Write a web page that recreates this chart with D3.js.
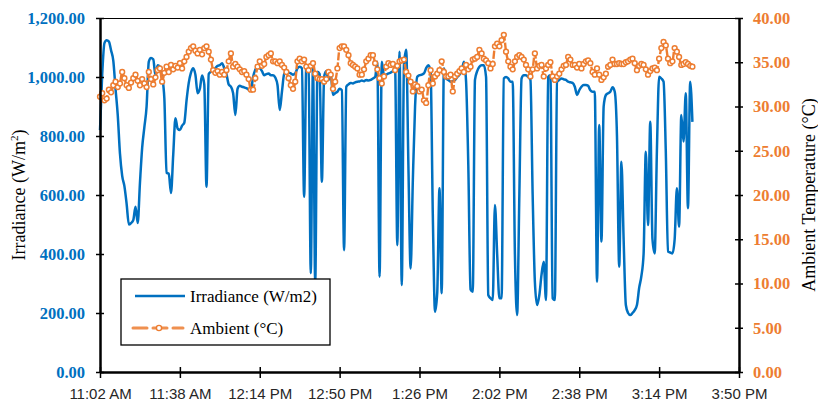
<!DOCTYPE html>
<html>
<head>
<meta charset="utf-8">
<script src="https://cdn.jsdelivr.net/npm/d3@7"></script>
<style>
	body { margin: 0; background: #fff; }
	svg { display: block; }
</style>
</head>
<body>
<div id="graphicContainer"></div>
<script>

// one reading per minute, starting at 11:02 AM
var startTime = "11:02 AM"

var xTickLabels = ["11:02 AM", "11:38 AM", "12:14 PM", "12:50 PM", "1:26 PM", "2:02 PM", "2:38 PM", "3:14 PM", "3:50 PM"]
var irrTicks = [0, 200, 400, 600, 800, 1000, 1200]
var tempTicks = [0, 5, 10, 15, 20, 25, 30, 35, 40]

// Irradiance (W/m2)
var irradiance = [
	820,1010,1115,1125,1120,1090,1055,960,871,740,
	665,630,570,500,505,515,560,505,640,760,
	830,900,1052,1064,1060,1005,1040,1035,1000,928,
	675,672,607,736,860,825,820,835,845,920,
	980,1015,1030,1008,945,960,1005,975,628,1010,
	1018,1025,1030,1038,1040,1047,1030,1010,975,967,
	945,871,960,970,967,965,962,958,955,1000,
	1025,1035,1030,1020,1006,1010,1012,1006,1006,998,
	973,888,950,1010,1018,1015,1012,1008,1012,1030,
	1035,1030,594,1040,1035,335,1040,300,1018,1010,
	645,1000,1020,990,1010,939,945,950,960,955,
	413,967,975,980,978,982,984,985,988,986,
	990,988,990,995,1000,1052,323,1052,1006,1008,
	1012,1015,1020,1030,430,1086,295,1040,1092,700,
	351,650,900,1001,1006,1008,1012,1030,1040,1020,
	532,204,270,623,267,1030,995,990,984,987,
	990,1000,1008,1020,1052,984,700,280,272,990,
	1020,1035,1040,1040,1000,261,250,244,566,400,
	250,250,995,1000,995,984,984,400,193,600,
	995,1006,1006,1000,990,600,306,227,260,330,
	374,244,1000,1006,250,244,984,990,995,992,
	990,984,982,980,967,939,955,967,973,973,
	970,955,950,950,306,837,442,900,939,945,
	950,965,950,800,357,713,450,227,200,193,
	200,210,227,285,325,400,747,498,848,450,
	402,750,1001,995,984,750,408,405,402,450,
	623,493,871,781,945,555,984,848
]

// Ambient temperature (°C)
var ambient = [
	31.1,31.5,30.7,30.9,31.9,31.6,32.4,32.8,32.2,32.6,
	33.9,33.2,32.4,32.1,32.7,33.2,33.6,32.9,32.4,33.1,
	32.6,32.2,33.9,33.1,32.5,33.3,34.1,34.3,32.8,33.8,
	34.5,33.9,34.7,34.2,34.6,34.4,34.9,34.3,35.1,35.6,
	36.2,36.6,36.8,36.3,36.0,36.4,35.9,36.6,36.8,36.2,
	35.3,34.1,33.8,34.0,33.6,33.9,33.6,34.1,35.1,36.0,
	34.5,34.8,34.5,34.2,33.9,34.0,33.6,33.1,31.9,31.9,
	33.2,34.5,35.1,34.6,34.8,35.6,35.8,36.0,35.1,35.1,
	34.9,35.1,34.7,34.4,33.9,33.2,32.4,32.0,32.8,35.1,
	35.4,35.1,35.3,34.5,34.1,34.6,34.9,33.7,33.2,33.1,
	33.1,32.8,33.1,33.9,33.6,32.0,32.8,34.3,36.6,36.8,
	36.8,36.4,35.8,34.9,34.7,34.5,34.3,33.6,33.6,34.2,
	35.1,35.4,35.8,35.8,34.9,34.2,33.2,32.6,33.4,34.5,
	34.9,34.7,34.8,34.1,34.6,35.1,35.2,35.3,33.9,33.5,
	32.8,31.7,32.5,32.3,31.7,31.9,30.7,30.4,32.4,34.1,
	32.6,33.4,33.7,34.1,35.1,33.9,33.4,33.4,33.6,31.7,
	33.4,33.7,34.0,34.3,33.9,34.7,34.2,34.5,35.3,35.4,
	35.6,36.4,36.0,35.4,35.2,34.9,34.3,34.8,36.8,37.1,
	36.8,37.5,38.1,36.2,35.1,34.5,34.2,35.1,35.6,35.8,
	35.6,35.3,34.7,34.2,33.4,34.2,36.0,34.3,34.6,34.7,
	33.4,34.3,34.7,35.0,33.4,33.0,33.4,33.7,34.2,34.6,
	34.7,35.6,35.3,34.7,34.7,34.4,34.8,34.3,34.8,35.1,
	35.2,34.9,33.9,33.6,34.3,33.6,33.0,33.3,33.7,34.5,
	34.7,35.3,34.8,34.8,34.9,34.8,34.8,35.0,35.1,35.3,
	35.4,34.9,34.1,34.6,34.8,34.7,34.2,33.6,34.0,34.3,
	34.4,34.1,35.4,36.6,37.3,36.9,35.4,34.9,35.1,36.6,
	36.2,35.6,34.7,34.8,35.0,34.8,34.6,34.5
]

var blue = "#0070C0"
var orange = "#ED7D31"

function init() {

	var width = 818
	var height = 403
	var margin = {top: 18, right: 79, bottom: 31, left: 100}
	var innerW = width - margin.left - margin.right
	var innerH = height - margin.top - margin.bottom

	var parseClock = d3.timeParse("%I:%M %p")
	var t0 = parseClock(startTime)
	var tickTimes = xTickLabels.map(parseClock)

	var irrData = irradiance.map((v, i) => ({date: d3.timeMinute.offset(t0, i), value: v}))
	var ambData = ambient.map((v, i) => ({date: d3.timeMinute.offset(t0, i), value: v}))

	var svg = d3.select("#graphicContainer").append("svg")
		.attr("width", width)
		.attr("height", height)

	var g = svg.append("g")
		.attr("transform", `translate(${margin.left},${margin.top})`)

	var x = d3.scaleTime()
		.domain([tickTimes[0], tickTimes[tickTimes.length - 1]])
		.range([0, innerW])

	var yIrr = d3.scaleLinear()
		.domain([0, 1200])
		.range([innerH, 0])

	var yTemp = d3.scaleLinear()
		.domain([0, 40])
		.range([innerH, 0])

	// plot frame (top edge)
	g.append("line")
		.attr("x1", 0)
		.attr("x2", innerW)
		.attr("y1", 0.5)
		.attr("y2", 0.5)
		.attr("stroke", "#000")
		.attr("stroke-width", 1.2)

	var irrLine = d3.line()
		.curve(d3.curveMonotoneX)
		.x(d => x(d.date))
		.y(d => yIrr(d.value))

	var ambLine = d3.line()
		.curve(d3.curveMonotoneX)
		.x(d => x(d.date))
		.y(d => yTemp(d.value))

	g.append("path")
		.datum(irrData)
		.attr("fill", "none")
		.attr("stroke", blue)
		.attr("stroke-width", 2.5)
		.attr("stroke-linejoin", "round")
		.attr("d", irrLine)

	g.append("path")
		.datum(ambData)
		.attr("fill", "none")
		.attr("stroke", orange)
		.attr("stroke-width", 2.4)
		.attr("stroke-dasharray", "8,2")
		.attr("d", ambLine)

	g.append("g")
		.selectAll("circle")
		.data(ambData)
		.join("circle")
		.attr("cx", d => x(d.date))
		.attr("cy", d => yTemp(d.value))
		.attr("r", 2.4)
		.attr("fill", "#fff")
		.attr("stroke", orange)
		.attr("stroke-width", 1.5)

	// axes
	var xAxis = d3.axisBottom(x)
		.tickValues(tickTimes)
		.tickFormat((d, i) => xTickLabels[i])
		.tickSizeInner(6)
		.tickSizeOuter(0)
		.tickPadding(10)

	var yAxisLeft = d3.axisLeft(yIrr)
		.tickValues(irrTicks)
		.tickFormat(d3.format(",.2f"))
		.tickSizeInner(4)
		.tickSizeOuter(0)
		.tickPadding(11)

	var yAxisRight = d3.axisRight(yTemp)
		.tickValues(tempTicks)
		.tickFormat(d3.format(".2f"))
		.tickSizeInner(4)
		.tickSizeOuter(0)
		.tickPadding(10)

	var gx = g.append("g")
		.attr("transform", `translate(0,${innerH})`)
		.call(xAxis)
	gx.selectAll(".tick line").attr("y1", -5).attr("stroke", "#000").attr("stroke-width", 1.5)
	gx.select(".domain").attr("stroke", "#000").attr("stroke-width", 2.5)
	gx.selectAll("text")
		.attr("font-family", "Liberation Sans, Arial, sans-serif")
		.attr("font-size", 15)
		.attr("fill", "#262626")

	var gl = g.append("g")
		.call(yAxisLeft)
	gl.selectAll(".tick line").attr("x1", 4).attr("stroke", "#000").attr("stroke-width", 1.5)
	gl.select(".domain").attr("stroke", "#000").attr("stroke-width", 2.5)
	gl.selectAll("text")
		.attr("font-family", "Liberation Serif, Times New Roman, serif")
		.attr("font-weight", "bold")
		.attr("font-size", 16.5)
		.attr("fill", blue)

	var gr = g.append("g")
		.attr("transform", `translate(${innerW},0)`)
		.call(yAxisRight)
	gr.selectAll(".tick line").attr("x1", -4).attr("stroke", "#000").attr("stroke-width", 1.5)
	gr.select(".domain").attr("stroke", "#000").attr("stroke-width", 2.5)
	gr.selectAll("text")
		.attr("font-family", "Liberation Serif, Times New Roman, serif")
		.attr("font-weight", "bold")
		.attr("font-size", 16.5)
		.attr("fill", orange)

	// axis titles
	var leftTitle = svg.append("text")
		.attr("transform", `translate(25,${margin.top + innerH / 2}) rotate(-90)`)
		.attr("text-anchor", "middle")
		.attr("font-family", "Liberation Serif, Times New Roman, serif")
		.attr("font-size", 18)
		.attr("fill", "#000")
	leftTitle.append("tspan").text("Irradiance (W/m")
	leftTitle.append("tspan").attr("font-size", 11).attr("dy", -7).text("2")
	leftTitle.append("tspan").attr("dy", 7).text(")")

	svg.append("text")
		.attr("transform", `translate(815,${margin.top + innerH / 2}) rotate(-90)`)
		.attr("text-anchor", "middle")
		.attr("font-family", "Liberation Serif, Times New Roman, serif")
		.attr("font-size", 18)
		.attr("fill", "#000")
		.text("Ambient Temperature (°C)")

	// legend
	var legend = svg.append("g")
		.attr("transform", "translate(121,279)")

	legend.append("rect")
		.attr("width", 209)
		.attr("height", 66)
		.attr("fill", "#fff")
		.attr("stroke", "#000")
		.attr("stroke-width", 1.3)

	legend.append("line")
		.attr("x1", 14).attr("x2", 64)
		.attr("y1", 17).attr("y2", 17)
		.attr("stroke", blue)
		.attr("stroke-width", 2.5)

	legend.append("line")
		.attr("x1", 12).attr("x2", 62)
		.attr("y1", 49).attr("y2", 49)
		.attr("stroke", orange)
		.attr("stroke-width", 3)
		.attr("stroke-dasharray", "14,6")
		.attr("stroke-linecap", "round")
		.attr("opacity", 0.85)

	legend.append("circle")
		.attr("cx", 38)
		.attr("cy", 49)
		.attr("r", 2.6)
		.attr("fill", "#fff")
		.attr("stroke", orange)
		.attr("stroke-width", 1.4)

	legend.selectAll("text.label")
		.data(["Irradiance (W/m2)", "Ambient (°C)"])
		.join("text")
		.attr("class", "label")
		.attr("x", 69)
		.attr("y", (d, i) => 17 + i * 32)
		.attr("dy", "0.35em")
		.attr("font-family", "Liberation Serif, Times New Roman, serif")
		.attr("font-size", 17)
		.attr("fill", "#000")
		.text(d => d)

}

init()

</script>
</body>
</html>
